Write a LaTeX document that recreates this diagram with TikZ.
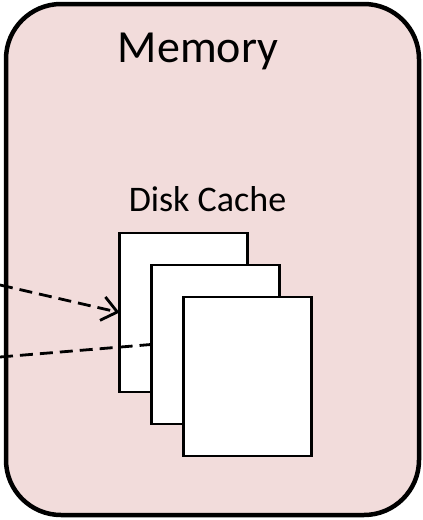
\documentclass[tikz,border=0pt]{standalone}
\usepackage{fontspec}
\setmainfont{Carlito}
\usetikzlibrary{arrows.meta}
\definecolor{memfill}{HTML}{F2DCDB}
\tikzset{
  membox/.style={draw=black, line width=4.5pt, fill=memfill, rounded corners=55pt},
  page/.style={draw=black, line width=2.8pt, fill=white, minimum width=128pt, minimum height=159pt, inner sep=0pt, outer sep=0pt},
  dashline/.style={draw=black, line width=2.8pt, dash pattern=on 13pt off 7pt},
  lbl/.style={inner sep=0pt, anchor=base}
}
\begin{document}
\begin{tikzpicture}[x=1pt,y=-1pt]
\useasboundingbox (0,0) rectangle (423,520);
\path[membox] (6,4) rectangle (419,515);
\node[lbl, font=\fontsize{46}{50}\selectfont] (mem) at (198,62) {Memory};
\node[lbl, font=\fontsize{36}{40}\selectfont] (dc) at (207.5,211) {Disk Cache};
\node[page] (r1) at (183.5,312.5) {};
\coordinate (s2) at (0,357);
\draw[dashline] (s2) -- (151,344.5);
\node[page] (r2) at (215.5,344.5) {};
\node[page] (r3) at (247.5,376.5) {};
\coordinate (s1) at (0,285);
\draw[dashline, -{Straight Barb[length=15pt,width=24pt]}] (s1) -- (r1.west);
\end{tikzpicture}
\end{document}
